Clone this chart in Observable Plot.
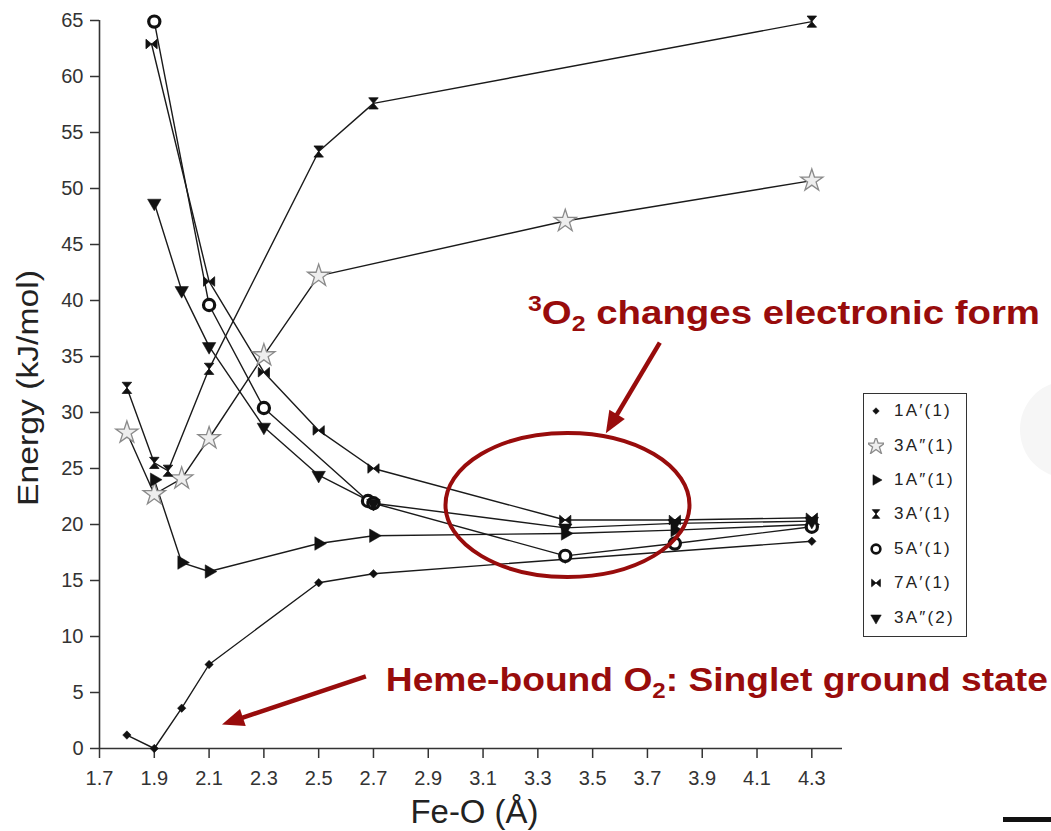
<!DOCTYPE html>
<html><head><meta charset="utf-8">
<script src="https://cdn.jsdelivr.net/npm/d3@7"></script>
<script src="https://cdn.jsdelivr.net/npm/@observablehq/plot@0.6"></script>
<style>
body{margin:0;background:#fff;}
#wrap{position:relative;width:1051px;height:831px;overflow:hidden;background:#fff;font-family:"Liberation Sans",Arial,sans-serif;}
#wrap svg.plotsvg{position:absolute;left:0;top:0;}
#legend{position:absolute;left:863px;top:393px;width:102px;height:242px;border:1.6px solid #333;background:#fff;box-sizing:content-box;}
.lrow{height:34.4px;display:flex;align-items:center;}
.lrow svg{width:16px;height:16px;margin-left:4px;margin-right:10px;}
.lrow span{font-size:17px;color:#222;letter-spacing:2.2px;}
#deco{position:absolute;left:1020px;top:382px;width:90px;height:95px;border-radius:50%;background:#f6f6f6;}
#bar{position:absolute;left:1003px;top:817px;width:48px;height:5px;background:#111;}
</style></head>
<body><div id="wrap"><div id="deco"></div></div>
<script>
// ---- data ----
const seriesNames = ["1A′(1)", "3A″(1)", "1A″(1)", "3A′(1)", "5A′(1)", "7A′(1)", "3A″(2)"];

const feO_1Ap_1 = [1.8, 1.9, 2.0, 2.1, 2.5, 2.7, 3.4, 4.3];
const energy_1Ap_1 = [1.2, 0.0, 3.6, 7.5, 14.8, 15.6, 16.9, 18.5];

const feO_3App_1 = [1.8, 1.9, 2.0, 2.1, 2.3, 2.5, 3.4, 4.3];
const energy_3App_1 = [28.2, 22.7, 24.1, 27.7, 35.1, 42.2, 47.1, 50.7];

const feO_1App_1 = [1.9, 2.0, 2.1, 2.5, 2.7, 3.4, 3.8, 4.3];
const energy_1App_1 = [24.0, 16.6, 15.8, 18.3, 19.0, 19.2, 19.5, 20.0];

const feO_3Ap_1 = [1.8, 1.9, 1.95, 2.1, 2.5, 2.7, 4.3];
const energy_3Ap_1 = [32.2, 25.5, 24.8, 33.9, 53.3, 57.6, 64.9];

const feO_5Ap_1 = [1.9, 2.1, 2.3, 2.68, 2.7, 3.4, 3.8, 4.3];
const energy_5Ap_1 = [64.9, 39.6, 30.4, 22.1, 21.9, 17.2, 18.3, 19.8];

const feO_7Ap_1 = [1.89, 2.1, 2.3, 2.5, 2.7, 3.4, 3.8, 4.3];
const energy_7Ap_1 = [62.9, 41.7, 33.6, 28.4, 25.0, 20.4, 20.4, 20.6];

const feO_3App_2 = [1.9, 2.0, 2.1, 2.3, 2.5, 2.7, 3.4, 3.8, 4.3];
const energy_3App_2 = [48.7, 40.9, 35.9, 28.7, 24.4, 21.9, 19.7, 20.1, 20.3];

const xTicks = [1.7, 1.9, 2.1, 2.3, 2.5, 2.7, 2.9, 3.1, 3.3, 3.5, 3.7, 3.9, 4.1, 4.3];
const yTicks = [0, 5, 10, 15, 20, 25, 30, 35, 40, 45, 50, 55, 60, 65];

const xLabel = "Fe-O (Å)";
const yLabel = "Energy (kJ/mol)";

// annotations (data coordinates)
const ellipseCenter = [3.41, 21.7];
const arrow1 = [[3.747, 36.2], [3.550, 28.1]];
const arrow2 = [[2.674, 6.4], [2.149, 2.1]];
const note1Pos = [3.266, 37.9];
const note2Pos = [2.747, 5.1];

// ---- build table ----
const groups = [
  [seriesNames[0], feO_1Ap_1, energy_1Ap_1],
  [seriesNames[1], feO_3App_1, energy_3App_1],
  [seriesNames[2], feO_1App_1, energy_1App_1],
  [seriesNames[3], feO_3Ap_1, energy_3Ap_1],
  [seriesNames[4], feO_5Ap_1, energy_5Ap_1],
  [seriesNames[5], feO_7Ap_1, energy_7Ap_1],
  [seriesNames[6], feO_3App_2, energy_3App_2]
];
const rows = groups.flatMap(([s, xs, ys]) => xs.map((x, i) => ({series: s, feO: x, energy: ys[i]})));

// custom symbols
const hourglass = {draw(ctx, size) {
  const s = Math.sqrt(size) * 0.5, w = s * 0.85;
  ctx.moveTo(-w, -s); ctx.lineTo(w, -s); ctx.lineTo(-w, s); ctx.lineTo(w, s); ctx.closePath();
}};
const bowtie = {draw(ctx, size) {
  const s = Math.sqrt(size) * 0.5, h = s * 0.85;
  ctx.moveTo(-s, -h); ctx.lineTo(-s, h); ctx.lineTo(s, -h); ctx.lineTo(s, h); ctx.closePath();
}};

const styles = [
  {symbol: "diamond2", d3sym: d3.symbolDiamond2, r: 3.8, fill: "#111", stroke: "#111", sw: 0.5, rotate: 0},
  {symbol: "star", d3sym: d3.symbolStar, r: 7, fill: "#eee", stroke: "#8a8a8a", sw: 1.3, rotate: 0},
  {symbol: "triangle", d3sym: d3.symbolTriangle, r: 5, fill: "#111", stroke: "#111", sw: 0.5, rotate: 90},
  {symbol: hourglass, d3sym: hourglass, r: 6.3, fill: "#111", stroke: "#111", sw: 0.8, rotate: 0},
  {symbol: "circle", d3sym: d3.symbolCircle, r: 5.6, fill: "#fff", stroke: "#111", sw: 3.2, rotate: 0},
  {symbol: bowtie, d3sym: bowtie, r: 6.3, fill: "#111", stroke: "#111", sw: 0.8, rotate: 0},
  {symbol: "triangle", d3sym: d3.symbolTriangle, r: 5, fill: "#111", stroke: "#111", sw: 0.5, rotate: 180}
];

const dotMarks = seriesNames.map((s, i) => {
  const st = styles[i];
  return Plot.dot(rows.filter(d => d.series === s), {
    x: "feO", y: "energy", symbol: st.symbol, r: st.r,
    fill: st.fill, stroke: st.stroke, strokeWidth: st.sw, rotate: st.rotate
  });
});

const plot = Plot.plot({
  width: 1051, height: 831,
  marginLeft: 99, marginRight: 209, marginTop: 20, marginBottom: 83,
  x: {domain: [1.7, 4.412]},
  y: {domain: [0, 65]},
  style: {background: "transparent", color: "#333", fontFamily: "'Liberation Sans', Arial, sans-serif", fontSize: "20px"},
  marks: [
    Plot.axisX({ticks: xTicks, tickFormat: d => d.toFixed(1), tickSize: 10, tickPadding: 12, label: null, fontSize: 20, strokeWidth: 1.5}),
    Plot.axisY({ticks: yTicks, tickSize: 9, tickPadding: 7, label: null, fontSize: 20, strokeWidth: 1.5}),
    Plot.ruleY([0], {stroke: "#333", strokeWidth: 1.6}),
    Plot.ruleX([1.7], {stroke: "#333", strokeWidth: 1.6}),
    Plot.line(rows, {x: "feO", y: "energy", z: "series", stroke: "#1a1a1a", strokeWidth: 1.4}),
    ...dotMarks
  ]
});
plot.classList.add("plotsvg");
const wrap = document.getElementById("wrap");
wrap.appendChild(plot);

const X = v => plot.scale("x").apply(v);
const Y = v => plot.scale("y").apply(v);
const svg = d3.select(plot);
const red = "#980c0c";

// axis titles
svg.append("text")
  .attr("transform", `translate(38,${(Y(0) + Y(65)) / 2 + 4}) rotate(-90)`)
  .attr("text-anchor", "middle").attr("font-size", 30).attr("fill", "#222")
  .attr("textLength", 236).attr("lengthAdjust", "spacingAndGlyphs")
  .text(yLabel);
svg.append("text")
  .attr("x", (X(1.7) + X(4.412)) / 2 + 4).attr("y", 823)
  .attr("text-anchor", "middle").attr("font-size", 34).attr("fill", "#222")
  .attr("textLength", 128).attr("lengthAdjust", "spacingAndGlyphs")
  .text(xLabel);

// annotations
const ann = svg.append("g").attr("text-anchor", "start");
ann.append("ellipse")
  .attr("cx", X(ellipseCenter[0])).attr("cy", Y(ellipseCenter[1]))
  .attr("rx", 122).attr("ry", 72)
  .attr("fill", "none").attr("stroke", red).attr("stroke-width", 4);

function drawArrow([[x0, y0], [x1, y1]]) {
  const ax = X(x0), ay = Y(y0), bx = X(x1), by = Y(y1);
  const dx = bx - ax, dy = by - ay, L = Math.hypot(dx, dy);
  const ux = dx / L, uy = dy / L, px = -uy, py = ux;
  const hl = 22, hw = 9;
  const cx = bx - ux * hl, cy = by - uy * hl;
  ann.append("line").attr("x1", ax).attr("y1", ay).attr("x2", cx + ux * 4).attr("y2", cy + uy * 4)
    .attr("stroke", red).attr("stroke-width", 4.5);
  ann.append("polygon")
    .attr("points", `${bx},${by} ${cx + px * hw},${cy + py * hw} ${cx - px * hw},${cy - py * hw}`)
    .attr("fill", red);
}
drawArrow(arrow1);
drawArrow(arrow2);

const t1 = ann.append("text").attr("x", X(note1Pos[0])).attr("y", Y(note1Pos[1]))
  .attr("text-anchor", "start")
  .attr("fill", red).attr("font-weight", "bold").attr("font-size", 34)
  .attr("textLength", 512).attr("lengthAdjust", "spacingAndGlyphs");
t1.append("tspan").attr("font-size", 22).attr("dy", -13).text("3");
t1.append("tspan").attr("dy", 13).text("O");
t1.append("tspan").attr("font-size", 22).attr("dy", 7).text("2");
t1.append("tspan").attr("dy", -7).text(" changes electronic form");

const t2 = ann.append("text").attr("x", X(note2Pos[0])).attr("y", Y(note2Pos[1]))
  .attr("text-anchor", "start")
  .attr("fill", red).attr("font-weight", "bold").attr("font-size", 34)
  .attr("textLength", 662).attr("lengthAdjust", "spacingAndGlyphs");
t2.append("tspan").text("Heme-bound O");
t2.append("tspan").attr("font-size", 22).attr("dy", 7).text("2");
t2.append("tspan").attr("dy", -7).text(": Singlet ground state");

// legend
const leg = d3.select(wrap).append("div").attr("id", "legend");
seriesNames.forEach((s, i) => {
  const st = styles[i];
  const row = leg.append("div").attr("class", "lrow");
  const sv = row.append("svg").attr("viewBox", "-8 -8 16 16");
  const scale = i === 1 ? 0.8 : 0.78;
  sv.append("path")
    .attr("d", d3.symbol(st.d3sym, Math.PI * (st.r * scale) ** 2)())
    .attr("transform", `rotate(${st.rotate})`)
    .attr("fill", st.fill).attr("stroke", st.stroke).attr("stroke-width", st.sw === 3.2 ? 2.6 : st.sw);
  row.append("span").text(s);
});

d3.select(wrap).append("div").attr("id", "bar");
</script>
</body></html>
